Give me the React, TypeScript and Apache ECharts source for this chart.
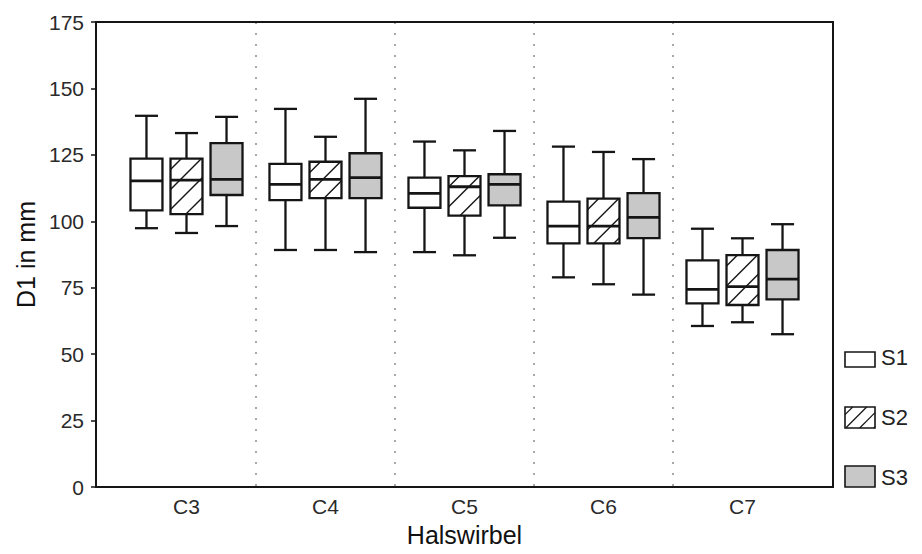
import React, { useEffect, useRef } from "react";
import * as echarts from "echarts";

const categories = ["C3", "C4", "C5", "C6", "C7"];
const seriesNames = ["S1", "S2", "S3"];
const yTicks = [0, 25, 50, 75, 100, 125, 150, 175];

// [min, Q1, median, Q3, max] per vertebra
const s1Values = [
  [97.4, 104.1, 115.2, 123.6, 139.7],
  [89.2, 108.0, 113.9, 121.6, 142.3],
  [88.4, 105.1, 110.5, 116.4, 130.0],
  [78.9, 91.7, 98.2, 107.4, 128.1],
  [60.6, 69.1, 74.4, 85.3, 97.2],
];
const s2Values = [
  [95.6, 102.7, 115.5, 123.6, 133.2],
  [89.2, 108.7, 115.8, 122.4, 131.8],
  [87.2, 102.1, 113.0, 117.0, 126.7],
  [76.3, 91.7, 98.2, 108.5, 126.1],
  [62.0, 68.5, 75.4, 87.3, 93.6],
];
const s3Values = [
  [98.2, 109.9, 115.8, 129.4, 139.3],
  [88.4, 108.7, 116.4, 125.6, 146.1],
  [93.8, 106.0, 113.9, 117.7, 134.0],
  [72.4, 93.7, 101.5, 110.6, 123.4],
  [57.5, 70.6, 78.2, 89.2, 98.9],
];

const FONT = "'Liberation Sans', Arial, sans-serif";
const INK = "#151515";

function hatchLines(x0: number, y0: number, x1: number, y1: number, step: number) {
  const out: number[][] = [];
  const start = x0 + y0 + step * 0.55;
  for (let c = start; c < x1 + y1; c += step) {
    const xa = Math.max(x0, c - y1);
    const xb = Math.min(x1, c - y0);
    if (xb - xa < 1) continue;
    out.push([xa, c - xa, xb, c - xb]);
  }
  return out;
}

function makeRender(offsetFrac: number, fill: string, hatch: boolean) {
  return (params: any, api: any) => {
    const idx = api.value(0);
    const band = api.size([1, 0])[0];
    const cx = api.coord([idx, 0])[0] + offsetFrac * band;
    const half = band * 0.115;
    const capHalf = band * 0.083;
    const yMin = api.coord([idx, api.value(1)])[1];
    const yQ1 = api.coord([idx, api.value(2)])[1];
    const yMed = api.coord([idx, api.value(3)])[1];
    const yQ3 = api.coord([idx, api.value(4)])[1];
    const yMax = api.coord([idx, api.value(5)])[1];
    const lw = 2.3;
    const children: any[] = [];
    children.push({
      type: "rect",
      shape: { x: cx - half, y: yQ3, width: half * 2, height: yQ1 - yQ3 },
      style: { fill, stroke: null },
    });
    if (hatch) {
      hatchLines(cx - half, yQ3, cx + half, yQ1, 20).forEach((l) => {
        children.push({
          type: "line",
          shape: { x1: l[0], y1: l[1], x2: l[2], y2: l[3] },
          style: { stroke: INK, lineWidth: 1.4 },
        });
      });
    }
    children.push({
      type: "rect",
      shape: { x: cx - half, y: yQ3, width: half * 2, height: yQ1 - yQ3 },
      style: { fill: "none", stroke: INK, lineWidth: lw },
    });
    children.push({
      type: "line",
      shape: { x1: cx - half, y1: yMed, x2: cx + half, y2: yMed },
      style: { stroke: INK, lineWidth: 2.8 },
    });
    children.push({
      type: "line",
      shape: { x1: cx, y1: yMax, x2: cx, y2: yQ3 },
      style: { stroke: INK, lineWidth: lw },
    });
    children.push({
      type: "line",
      shape: { x1: cx, y1: yQ1, x2: cx, y2: yMin },
      style: { stroke: INK, lineWidth: lw },
    });
    children.push({
      type: "line",
      shape: { x1: cx - capHalf, y1: yMax, x2: cx + capHalf, y2: yMax },
      style: { stroke: INK, lineWidth: lw },
    });
    children.push({
      type: "line",
      shape: { x1: cx - capHalf, y1: yMin, x2: cx + capHalf, y2: yMin },
      style: { stroke: INK, lineWidth: lw },
    });
    return { type: "group", children };
  };
}

function legendGraphics() {
  const items: any[] = [];
  const x = 845;
  const w = 30;
  const boxes = [
    { y: 352, h: 15, fill: "#ffffff", hatch: false, ty: 357 },
    { y: 407, h: 21, fill: "#ffffff", hatch: true, ty: 417 },
    { y: 466, h: 21, fill: "#c8c8c8", hatch: false, ty: 477 },
  ];
  boxes.forEach((b, i) => {
    items.push({
      type: "rect",
      shape: { x, y: b.y, width: w, height: b.h },
      style: { fill: b.fill, stroke: null },
    });
    if (b.hatch) {
      hatchLines(x, b.y, x + w, b.y + b.h, 14).forEach((l) => {
        items.push({
          type: "line",
          shape: { x1: l[0], y1: l[1], x2: l[2], y2: l[3] },
          style: { stroke: INK, lineWidth: 1.2 },
        });
      });
    }
    items.push({
      type: "rect",
      shape: { x, y: b.y, width: w, height: b.h },
      style: { fill: "none", stroke: INK, lineWidth: 1.6 },
    });
    items.push({
      type: "text",
      x: 881,
      y: b.ty,
      style: {
        text: seriesNames[i],
        fill: "#222",
        font: `22px ${FONT}`,
        textVerticalAlign: "middle",
        textAlign: "left",
      },
    });
  });
  return items;
}

export default function App() {
  const ref = useRef<HTMLDivElement>(null);
  useEffect(() => {
    if (!ref.current) return;
    const chart = echarts.init(ref.current, null, { renderer: "svg" });
    const allValues = [s1Values, s2Values, s3Values];
    const fills = ["#ffffff", "#ffffff", "#c8c8c8"];
    const offsets = [-0.288, 0, 0.288];
    chart.setOption({
      animation: false,
      backgroundColor: "#ffffff",
      grid: [
        {
          left: 96,
          right: 89,
          top: 22,
          bottom: 67,
          show: true,
          borderColor: INK,
          borderWidth: 2,
          backgroundColor: "transparent",
          z: 1,
        },
        { left: 117, right: 110, top: 22, bottom: 67 },
      ],
      xAxis: [
        { type: "value", gridIndex: 0, min: 0, max: 1, show: false },
        {
          type: "category",
          gridIndex: 1,
          data: categories,
          boundaryGap: true,
          axisLine: { show: false },
          axisTick: { show: false },
          axisLabel: { color: "#2a2a2a", fontSize: 21, fontFamily: FONT, margin: 9 },
          splitLine: {
            show: true,
            showMinLine: false,
            showMaxLine: false,
            lineStyle: { color: "#a8a8a8", type: [2, 9], width: 2 },
          },
          name: "Halswirbel",
          nameLocation: "middle",
          nameGap: 35,
          nameTextStyle: { color: "#111", fontSize: 25, fontFamily: FONT },
        },
      ],
      yAxis: [
        {
          type: "value",
          gridIndex: 0,
          min: 0,
          max: 175,
          interval: 25,
          axisLine: { show: true, lineStyle: { color: INK, width: 2 } },
          axisTick: { show: true, length: 5, lineStyle: { color: INK, width: 1.5 } },
          axisLabel: {
            color: "#2a2a2a",
            fontSize: 21,
            fontFamily: FONT,
            margin: 12,
            customValues: yTicks,
          },
          splitLine: { show: false },
          name: "D1 in mm",
          nameLocation: "middle",
          nameRotate: 90,
          nameGap: 53,
          nameTextStyle: { color: "#111", fontSize: 25, fontFamily: FONT },
        },
        {
          type: "value",
          gridIndex: 1,
          min: 0,
          max: 175,
          interval: 25,
          show: false,
        },
      ],
      series: allValues.map((vals, si) => ({
        type: "custom",
        name: seriesNames[si],
        xAxisIndex: 1,
        yAxisIndex: 1,
        renderItem: makeRender(offsets[si], fills[si], si === 1),
        encode: { x: 0, y: [1, 2, 3, 4, 5] },
        data: vals.map((v, i) => [i, ...v]),
        z: 3,
      })),
      graphic: legendGraphics(),
    });
    return () => chart.dispose();
  }, []);
  return (
    <div
      ref={ref}
      style={{ position: "absolute", left: 0, top: 0, width: 922, height: 554 }}
    />
  );
}
